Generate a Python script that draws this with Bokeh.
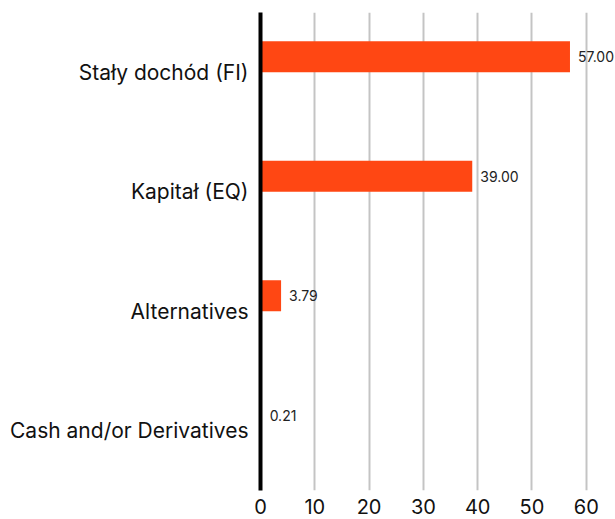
from bokeh.plotting import figure
from bokeh.models import FactorRange, ColumnDataSource, FixedTicker
from bokeh.transform import dodge
from bokeh.core.properties import value
from bokeh.embed import file_html
from bokeh.resources import INLINE

categories = ["Stały dochód (FI)", "Kapitał (EQ)", "Alternatives", "Cash and/or Derivatives"]
values = [57.00, 39.00, 3.79, 0.21]
value_labels = ["57.00", "39.00", "3.79", "0.21"]
x_ticks = [0, 10, 20, 30, 40, 50, 60]

FONT = "Inter"
ORANGE = "#ff4713"

src = ColumnDataSource(dict(cat=categories, val=values, lab=value_labels))

p = figure(width=614, height=519, output_backend="svg", toolbar_location=None,
           x_range=(0, 65.2), y_range=FactorRange(*reversed(categories), range_padding=0),
           min_border_left=260, min_border_right=0, min_border_top=12, min_border_bottom=29)
p.outline_line_color = None
p.background_fill_color = "white"

p.hbar(y=dodge("cat", 0.13, range=p.y_range), right="val", left=0, height=0.26,
       source=src, fill_color=ORANGE, line_color=None)
p.text(x="val", y=dodge("cat", 0.13, range=p.y_range), text="lab", source=src,
       x_offset=8, text_baseline="middle", text_align="left",
       text_font=value(FONT), text_font_size="14px", text_color="#222222")

p.ygrid.grid_line_color = None
p.xgrid.grid_line_color = "#c4c4c4"
p.xgrid.grid_line_width = 2
p.xaxis.ticker = FixedTicker(ticks=x_ticks)
p.xaxis.axis_line_color = None
p.xaxis.major_tick_line_color = None
p.xaxis.minor_tick_line_color = None
p.xaxis.major_label_text_font = FONT
p.xaxis.major_label_text_font_size = "20px"
p.xaxis.major_label_text_color = "#111111"
p.xaxis.major_label_standoff = 2

p.yaxis.axis_line_color = "black"
p.yaxis.axis_line_width = 4
p.yaxis.major_tick_line_color = None
p.yaxis.minor_tick_line_color = None
p.yaxis.major_label_text_font = FONT
p.yaxis.major_label_text_font_size = "21px"
p.yaxis.major_label_text_color = "#111111"
p.yaxis.major_label_standoff = 6

open("out.html", "w").write(file_html(p, INLINE))
